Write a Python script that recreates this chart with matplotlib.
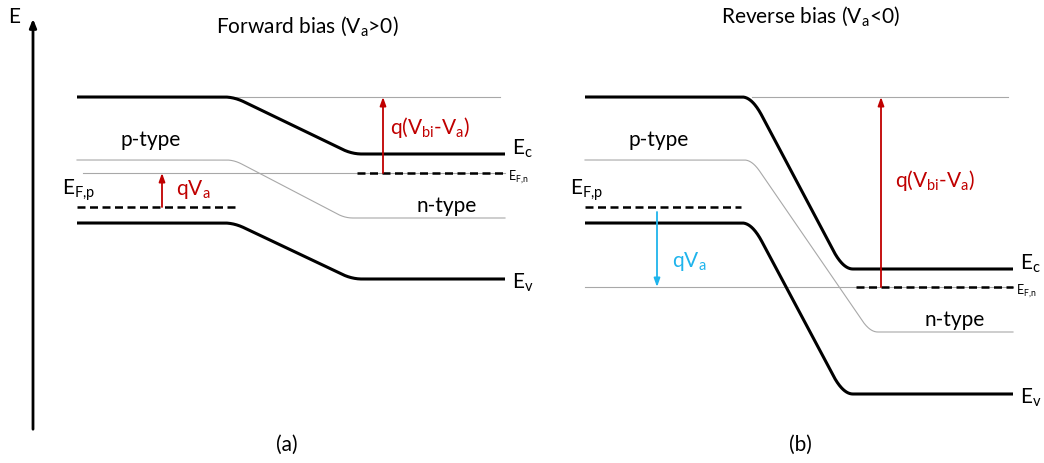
import numpy as np
import matplotlib.pyplot as plt

plt.rcParams['font.family'] = ['Lato', 'DejaVu Sans']
FS = 15

# band edges (image pixel units, y grows downward)
# panel: (x_left, x_bend1, x_bend2, x_right)
panel_x = {'a': (77, 234, 352, 505), 'b': (585, 752, 843, 1013)}
Ec = {'a': (98, 155), 'b': (98, 270)}
Ev = {'a': (224, 280), 'b': (224, 395)}
Ei = {'a': (161, 219), 'b': (161, 333)}
Ei_bend = {'a': (234, 345), 'b': (752, 870)}
EFp = {'a': 208, 'b': 208}
EFn = {'a': 174, 'b': 288}
EFp_x = {'a': (77, 237), 'b': (585, 741)}
EFn_x = {'a': (357, 505), 'b': (856, 1013)}
ref_x = {'a': (228, 500), 'b': (752, 1008)}
fermi_ref_x = {'a': (83, 505), 'b': (585, 1013)}
qva_x = {'a': 162, 'b': 657}
qvbi_x = {'a': 383, 'b': 881}
titles = {'a': 'Forward bias (V$_\\mathregular{a}$>0)', 'b': 'Reverse bias (V$_\\mathregular{a}$<0)'}
title_pos = {'a': (307, 27), 'b': (810, 17)}
qvbi_lbl = {'a': (390, 128), 'b': (895, 181)}
ntype_pos = {'a': (417, 206), 'b': (925, 320)}
sub_lbl = {'a': (287, 445), 'b': (800, 445)}


def band(x0, b1, b2, x1, y0, y1, r=10):
    x = np.linspace(x0, x1, 800)
    y = np.interp(x, [x0, b1, b2, x1], [y0, y0, y1, y1])
    k = int(r / (x[1] - x[0]))
    ker = np.ones(2 * k + 1) / (2 * k + 1)
    yp = np.pad(y, k, mode='edge')
    ys = np.convolve(yp, ker, mode='valid')
    return x, ys


fig = plt.figure(figsize=(10.44, 4.64), dpi=100)
ax = fig.add_axes([0, 0, 1, 1])
ax.set_xlim(0, 1044)
ax.set_ylim(464, 0)
ax.axis('off')

# energy axis
ax.annotate('', xy=(33, 17), xytext=(33, 433),
            arrowprops=dict(arrowstyle='-|>,head_length=0.5,head_width=0.2', color='black', lw=2))
ax.text(14, 17, 'E', fontsize=FS, ha='center', va='center')

red = '#c00000'
blue = '#1fb4ec'
for p in ['a', 'b']:
    x0, b1, b2, x1 = panel_x[p]
    thin = dict(color='#a8a8a8', lw=0.8)
    ax.plot(ref_x[p], [Ec[p][0]] * 2, **thin)
    ax.plot(fermi_ref_x[p], [EFn[p]] * 2, **thin)
    xi, yi = band(x0, Ei_bend[p][0], Ei_bend[p][1], x1, *Ei[p], r=8)
    ax.plot(xi, yi, **thin)
    for lvl in (Ec, Ev):
        xs, ys = band(x0, b1, b2, x1, *lvl[p])
        ax.plot(xs, ys, color='black', lw=2.2, solid_capstyle='butt')
    dash = dict(color='black', lw=1.8, ls=(0, (3.2, 1.8)))
    ax.plot(EFp_x[p], [EFp[p]] * 2, **dash)
    ax.plot(EFn_x[p], [EFn[p]] * 2, **dash)

    # q(Vbi - Va) arrow
    ax.annotate('', xy=(qvbi_x[p], Ec[p][0]), xytext=(qvbi_x[p], EFn[p]),
                arrowprops=dict(arrowstyle='-|>,head_length=0.5,head_width=0.18',
                                color=red, lw=1.3, shrinkA=0, shrinkB=0))
    ax.text(*qvbi_lbl[p], 'q(V$_\\mathregular{bi}$-V$_\\mathregular{a}$)', fontsize=FS, color=red,
            ha='left', va='center')

    ax.text(*title_pos[p], titles[p], fontsize=FS, ha='center', va='center')
    ax.text(x1 + 7, Ev[p][1] + 3, 'E$_\\mathregular{v}$', fontsize=FS, ha='left', va='center')
    ax.text(x1 + 7, Ec[p][1] - 6, 'E$_\\mathregular{c}$', fontsize=FS, ha='left', va='center')
    ax.text(x1 + 3, EFn[p] + 3, 'E$_\\mathregular{F{,}n}$', fontsize=9, ha='left', va='center')
    ax.text(x0 - 15, EFp[p] - 18, 'E$_\\mathregular{F{,}p}$', fontsize=FS, ha='left', va='center')
    ax.text(x0 + 43, 140, 'p-type', fontsize=FS, ha='left', va='center')
    ax.text(*ntype_pos[p], 'n-type', fontsize=FS, ha='left', va='center')
    ax.text(*sub_lbl[p], '(%s)' % p, fontsize=FS, ha='center', va='center')

# qVa arrows
ax.annotate('', xy=(qva_x['a'], EFn['a']), xytext=(qva_x['a'], EFp['a']),
            arrowprops=dict(arrowstyle='-|>,head_length=0.5,head_width=0.18',
                            color=red, lw=1.3, shrinkA=0, shrinkB=0))
ax.text(176, 190, 'qV$_\\mathregular{a}$', fontsize=FS, color=red, ha='left', va='center')

ax.annotate('', xy=(qva_x['b'], EFn['b']), xytext=(qva_x['b'], 213),
            arrowprops=dict(arrowstyle='-|>,head_length=0.5,head_width=0.18',
                            color=blue, lw=1.3, shrinkA=0, shrinkB=0))
ax.text(672, 262, 'qV$_\\mathregular{a}$', fontsize=FS, color=blue, ha='left', va='center')

fig.savefig('out.png', dpi=100)
